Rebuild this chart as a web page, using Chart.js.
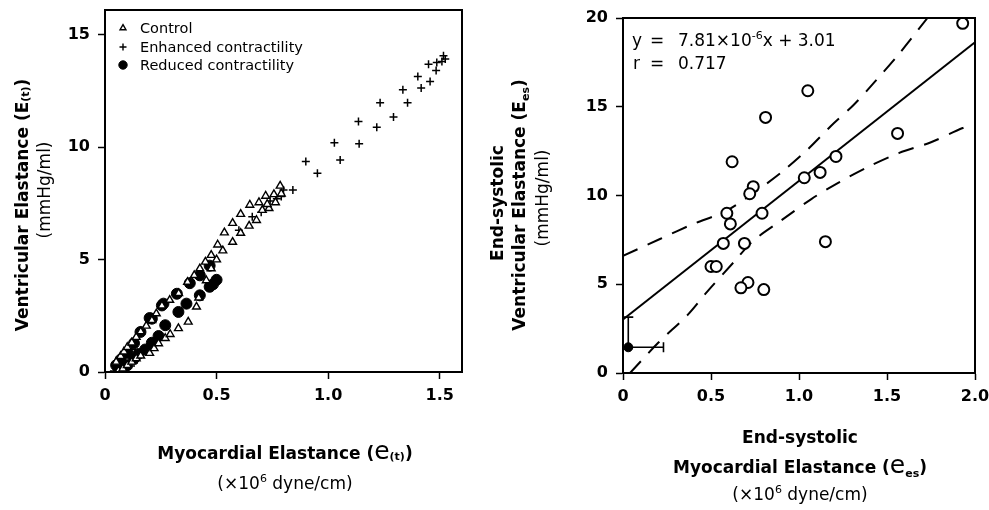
<!DOCTYPE html>
<html><head><meta charset="utf-8">
<script src="https://cdn.jsdelivr.net/npm/chart.js@4.4.0/dist/chart.umd.min.js"></script>
<style>
html,body{margin:0;padding:0;background:#fff;}
#wrap{position:relative;width:989px;height:510px;overflow:hidden;background:#fff;}
canvas{position:absolute;top:0;}
#c1{left:0;} #c2{left:490px;}
</style></head><body>
<div id="wrap"><canvas id="c1" width="490" height="510"></canvas><canvas id="c2" width="499" height="510"></canvas></div>
<script>
// ---------- LEFT PANEL DATA ----------
const L_X_TICKS = [0, 0.5, 1.0, 1.5];
const L_X_LABELS = ['0', '0.5', '1.0', '1.5'];
const L_Y_TICKS = [0, 5, 10, 15];
const L_Y_LABELS = ['0', '5', '10', '15'];

const CONTROL_X = [0.05,0.07,0.085,0.10,0.12,0.14,0.16,0.185,0.21,0.23,0.255,0.29,0.33,0.37,0.40,0.425,0.45,0.476,0.505,0.535,0.572,0.608,0.649,0.69,0.72,0.757,0.785,0.79,
                   0.06,0.08,0.10,0.12,0.14,0.16,0.20,0.22,0.24,0.27,0.292,0.329,0.373,0.41,0.42,0.454,0.476,0.50,0.528,0.572,0.608,0.646,0.679,0.705,0.735,0.764,0.727];
const CONTROL_Y = [0.45,0.70,0.90,1.10,1.30,1.55,1.80,2.05,2.30,2.60,2.95,3.20,3.50,4.00,4.30,4.60,4.90,5.20,5.66,6.20,6.62,7.02,7.43,7.54,7.83,7.90,8.28,7.93,
                   0.05,0.15,0.30,0.45,0.60,0.72,0.84,1.05,1.27,1.50,1.68,1.94,2.23,2.90,3.30,4.07,4.60,5.00,5.40,5.78,6.18,6.50,6.75,7.20,7.28,7.54,7.46];

const ENH_X = [0.04,0.06,0.08,0.10,0.12,0.09,0.13,0.16,0.60,0.66,0.70,0.74,0.77,0.79,0.80,
               0.842,0.900,0.952,1.028,1.054,1.136,1.139,1.218,1.233,1.293,1.335,1.356,1.402,1.417,1.450,1.457,1.484,1.487,1.510,1.517,1.525];
const ENH_Y = [0.05,0.25,0.50,0.80,1.00,0.20,0.40,0.90,6.30,6.90,7.10,7.60,7.70,7.80,8.10,
               8.10,9.36,8.84,10.20,9.43,11.14,10.15,10.89,11.98,11.34,12.55,11.98,13.14,12.63,13.69,12.92,13.41,13.77,13.81,14.06,13.92];

const RED_X = [0.05,0.07,0.10,0.13,0.159,0.20,0.21,0.255,0.262,0.322,0.38,0.425,0.469,
               0.08,0.10,0.13,0.15,0.18,0.21,0.24,0.27,0.329,0.365,0.425,0.469,0.484,0.50];
const RED_Y = [0.30,0.55,0.85,1.28,1.78,2.40,2.37,2.96,3.04,3.48,3.95,4.30,4.73,
               0.10,0.30,0.60,0.80,1.00,1.30,1.60,2.08,2.67,3.04,3.41,3.79,3.90,4.10];

const LEGEND_LABELS = ['Control', 'Enhanced contractility', 'Reduced contractility'];

// ---------- RIGHT PANEL DATA ----------
const R_X_TICKS = [0, 0.5, 1.0, 1.5, 2.0];
const R_X_LABELS = ['0', '0.5', '1.0', '1.5', '2.0'];
const R_Y_TICKS = [0, 5, 10, 15, 20];
const R_Y_LABELS = ['0', '5', '10', '15', '20'];

const PTS_X = [1.93,1.05,0.81,1.56,0.62,1.21,1.12,1.03,0.74,0.72,0.59,0.61,0.79,0.57,0.69,1.15,0.50,0.53,0.71,0.67,0.80];
const PTS_Y = [19.7,15.9,14.4,13.5,11.9,12.2,11.3,11.0,10.5,10.1,9.0,8.4,9.0,7.3,7.3,7.4,6.0,6.0,5.1,4.8,4.7];

const MEAN_X = [0.03];
const MEAN_Y = [1.45];
const MEAN_ERR_X = [0.20];
const MEAN_ERR_Y = [1.70];

const REG_X = [0, 2.0];
const REG_Y = [3.01, 18.63];

const UP_X = [0, 0.21, 0.40, 0.58, 0.75, 0.90, 1.05, 1.18, 1.31, 1.43, 1.57, 1.73];
const UP_Y = [6.6, 7.55, 8.4, 9.1, 10.2, 11.3, 12.6, 13.9, 15.1, 16.4, 18.0, 20.0];
const LO_X = [0.04, 0.20, 0.37, 0.48, 0.63, 0.74, 0.90, 1.07, 1.22, 1.39, 1.57, 1.75, 1.93, 2.0];
const LO_Y = [0.0, 1.7, 3.3, 4.6, 6.25, 7.45, 8.6, 9.8, 10.7, 11.6, 12.4, 13.0, 13.8, 14.0];

// ---------- helpers ----------
const zip = (xs, ys) => xs.map((x, i) => ({x: x, y: ys[i]}));
const FF = '"DejaVu Sans"';
const B17 = 'bold 17px ' + FF, R17 = '17px ' + FF, BIGE = '25px ' + FF, SUB = 'bold 11px ' + FF, SUP = '11px ' + FF;

function drawRich(ctx, segs, x, y, rot, align) {
  ctx.save();
  ctx.translate(x, y);
  if (rot) ctx.rotate(rot);
  ctx.textAlign = 'left'; ctx.textBaseline = 'alphabetic'; ctx.fillStyle = '#000';
  let total = 0;
  segs.forEach(s => { ctx.font = s.f; s.w = ctx.measureText(s.t).width; total += s.w; });
  let cx = align === 'left' ? 0 : -total / 2;
  segs.forEach(s => { ctx.font = s.f; ctx.fillText(s.t, cx, s.dy || 0); cx += s.w; });
  ctx.restore();
}

function scaleOpts(min, max, ticks, labels, isX, fitSize) {
  return {
    type: 'linear', min: min, max: max,
    afterBuildTicks: s => { s.ticks = ticks.map(v => ({value: v})); },
    afterFit: s => {
      if (isX) s.height = fitSize; else s.width = fitSize;
      s.paddingTop = 0; s.paddingBottom = 0; s.paddingLeft = 0; s.paddingRight = 0;
    },
    ticks: {
      callback: (v, i) => labels[i],
      font: {family: 'DejaVu Sans', weight: 'bold', size: 16},
      color: '#000', padding: isX ? 7 : 8, maxRotation: 0, autoSkip: false
    },
    grid: {drawOnChartArea: false, drawTicks: true, tickLength: 7, tickWidth: 1.5, tickColor: '#000'},
    border: {display: true, color: '#000', width: 2}
  };
}

const framePlugin = {
  id: 'frame',
  afterDraw(chart) {
    const a = chart.chartArea, ctx = chart.ctx;
    ctx.save(); ctx.strokeStyle = '#000'; ctx.lineWidth = 2;
    ctx.strokeRect(a.left, a.top, a.right - a.left, a.bottom - a.top);
    ctx.restore();
  }
};

// ---------- LEFT CHART ----------
const leftText = {
  id: 'leftText',
  afterDraw(chart) {
    const ctx = chart.ctx;
    drawRich(ctx, [{t: 'Myocardial Elastance (', f: B17}, {t: 'e', f: BIGE}, {t: '(t)', f: SUB, dy: 1}, {t: ')', f: B17}], 285, 459);
    drawRich(ctx, [{t: '(×10', f: R17}, {t: '6', f: SUP, dy: -7}, {t: ' dyne/cm)', f: R17}], 285, 489);
    drawRich(ctx, [{t: 'Ventricular Elastance (E', f: B17}, {t: '(t)', f: SUB, dy: 1}, {t: ')', f: B17}], 28, 205, -Math.PI / 2);
    drawRich(ctx, [{t: '(mmHg/ml)', f: R17}], 50, 190, -Math.PI / 2);
    // legend
    const styles = [
      {pointStyle: 'triangle', radius: 3.4, borderWidth: 1.4, fill: '#fff'},
      {pointStyle: 'cross', radius: 3.5, borderWidth: 1.4, fill: '#000'},
      {pointStyle: 'circle', radius: 4.2, borderWidth: 1, fill: '#000'}
    ];
    const rowsY = [28, 47, 65];
    LEGEND_LABELS.forEach((lab, i) => {
      ctx.save();
      ctx.fillStyle = styles[i].fill; ctx.strokeStyle = '#000'; ctx.lineWidth = styles[i].borderWidth;
      Chart.helpers.drawPoint(ctx, {pointStyle: styles[i].pointStyle, radius: styles[i].radius, rotation: 0, borderWidth: styles[i].borderWidth}, 123, rowsY[i]);
      ctx.restore();
      drawRich(ctx, [{t: lab, f: '14.5px ' + FF}], 140, rowsY[i] + 5, 0, 'left');
    });
  }
};

new Chart(document.getElementById('c1'), {
  type: 'scatter',
  data: {datasets: [
    {label: LEGEND_LABELS[0], data: zip(CONTROL_X, CONTROL_Y), pointStyle: 'triangle', pointRadius: 4.5, pointBorderWidth: 1.4, pointBackgroundColor: '#fff', pointBorderColor: '#000'},
    {label: LEGEND_LABELS[1], data: zip(ENH_X, ENH_Y), pointStyle: 'cross', pointRadius: 4, pointBorderWidth: 1.5, pointBorderColor: '#000', pointBackgroundColor: '#000'},
    {label: LEGEND_LABELS[2], data: zip(RED_X, RED_Y), pointStyle: 'circle', pointRadius: 5.5, pointBorderWidth: 1, pointBorderColor: '#000', pointBackgroundColor: '#000'}
  ]},
  options: {
    responsive: false, animation: false, devicePixelRatio: 1,
    layout: {padding: {left: 0, top: 10, right: 28, bottom: 0}},
    plugins: {legend: {display: false}, tooltip: {enabled: false}},
    scales: {
      x: scaleOpts(0, 1.6, L_X_TICKS, L_X_LABELS, true, 138),
      y: scaleOpts(0, 16.1, L_Y_TICKS, L_Y_LABELS, false, 105)
    }
  },
  plugins: [framePlugin, leftText]
});

// ---------- RIGHT CHART ----------
const rightExtras = {
  id: 'rightExtras',
  afterDatasetsDraw(chart) {
    const ctx = chart.ctx, xs = chart.scales.x, ys = chart.scales.y;
    ctx.save(); ctx.strokeStyle = '#000'; ctx.lineWidth = 1.6;
    MEAN_X.forEach((mx, i) => {
      const px = xs.getPixelForValue(mx), py = ys.getPixelForValue(MEAN_Y[i]);
      const pxe = xs.getPixelForValue(mx + MEAN_ERR_X[i]);
      const pye = ys.getPixelForValue(MEAN_Y[i] + MEAN_ERR_Y[i]);
      ctx.beginPath();
      ctx.moveTo(px, py); ctx.lineTo(pxe, py);
      ctx.moveTo(pxe, py - 5); ctx.lineTo(pxe, py + 5);
      ctx.moveTo(px, py); ctx.lineTo(px, pye);
      ctx.moveTo(px - 5, pye); ctx.lineTo(px + 5, pye);
      ctx.stroke();
    });
    ctx.restore();
  },
  afterDraw(chart) {
    const ctx = chart.ctx;
    const o = 490;
    drawRich(ctx, [{t: 'End-systolic', f: B17}], 800 - o, 443);
    drawRich(ctx, [{t: 'Myocardial Elastance (', f: B17}, {t: 'e', f: BIGE}, {t: 'es', f: SUB, dy: 4}, {t: ')', f: B17}], 800 - o, 473);
    drawRich(ctx, [{t: '(×10', f: R17}, {t: '6', f: SUP, dy: -7}, {t: ' dyne/cm)', f: R17}], 800 - o, 500);
    drawRich(ctx, [{t: 'End-systolic', f: B17}], 13, 203, -Math.PI / 2);
    drawRich(ctx, [{t: 'Ventricular Elastance (E', f: B17}, {t: 'es', f: SUB, dy: 4}, {t: ')', f: B17}], 35, 205, -Math.PI / 2);
    drawRich(ctx, [{t: '(mmHg/ml)', f: R17}], 58, 198, -Math.PI / 2);
    // regression annotation
    drawRich(ctx, [{t: 'y', f: R17}], 632 - o, 46, 0, 'left');
    drawRich(ctx, [{t: '=', f: R17}], 650 - o, 46, 0, 'left');
    drawRich(ctx, [{t: '7.81×10', f: R17}, {t: '-6', f: SUP, dy: -7}, {t: 'x + 3.01', f: R17}], 678 - o, 46, 0, 'left');
    drawRich(ctx, [{t: 'r', f: R17}], 633 - o, 69, 0, 'left');
    drawRich(ctx, [{t: '=', f: R17}], 650 - o, 69, 0, 'left');
    drawRich(ctx, [{t: '0.717', f: R17}], 678 - o, 69, 0, 'left');
  }
};

new Chart(document.getElementById('c2'), {
  type: 'scatter',
  data: {datasets: [
    {label: 'Data', data: zip(PTS_X, PTS_Y), pointStyle: 'circle', pointRadius: 5.5, pointBorderWidth: 2, pointBorderColor: '#000', pointBackgroundColor: '#fff'},
    {label: 'Mean', data: zip(MEAN_X, MEAN_Y), pointStyle: 'circle', pointRadius: 4.5, pointBorderWidth: 1, pointBorderColor: '#000', pointBackgroundColor: '#000'},
    {label: 'Regression', data: zip(REG_X, REG_Y), showLine: true, borderColor: '#000', borderWidth: 2, pointRadius: 0, fill: false},
    {label: 'Upper', data: zip(UP_X, UP_Y), showLine: true, borderColor: '#000', borderWidth: 2, borderDash: [16, 11], pointRadius: 0, tension: 0.3, fill: false},
    {label: 'Lower', data: zip(LO_X, LO_Y), showLine: true, borderColor: '#000', borderWidth: 2, borderDash: [16, 11], pointRadius: 0, tension: 0.3, fill: false}
  ]},
  options: {
    responsive: false, animation: false, devicePixelRatio: 1,
    layout: {padding: {left: 0, top: 18, right: 14, bottom: 0}},
    plugins: {legend: {display: false}, tooltip: {enabled: false}},
    scales: {
      x: scaleOpts(0, 2.0, R_X_TICKS, R_X_LABELS, true, 137),
      y: scaleOpts(0, 20, R_Y_TICKS, R_Y_LABELS, false, 133)
    }
  },
  plugins: [framePlugin, rightExtras]
});
</script>
</body></html>
